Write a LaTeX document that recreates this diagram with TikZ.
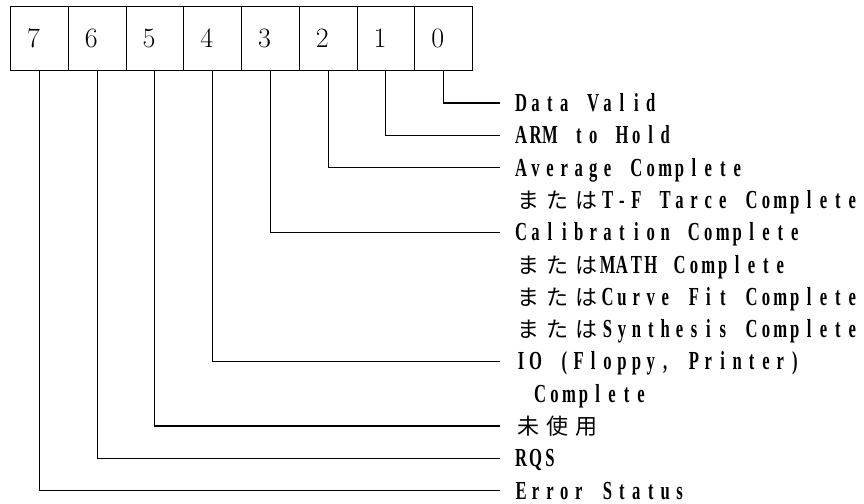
\documentclass[tikz,border=0pt]{standalone}
\usepackage{fontspec}
% condensed serif face for the status texts, set in fixed-pitch cells
\newfontfamily\latf{Liberation Serif}[FakeStretch=0.64]
\newfontfamily\jpf{Noto Sans CJK JP}
\ExplSyntaxOn
\dim_new:N \l_bitlab_pitch_dim
\dim_set:Nn \l_bitlab_pitch_dim {14.4pt}
% one character per cell: half-width cell for Latin, double cell for kana/kanji
\cs_new_protected:Npn \bitlab_cell:n #1
  {
    \int_compare:nNnTF {`#1} > {255}
      { \makebox[2\l_bitlab_pitch_dim]{\jpf\mdseries\fontsize{22pt}{22pt}\selectfont #1} }
      { \makebox[\l_bitlab_pitch_dim]{#1} }
  }
\NewDocumentCommand \mono { m }
  { \str_map_inline:nn {#1} { \bitlab_cell:n {##1} } }
\ExplSyntaxOff
\newcommand\bitdigit[1]{\makebox[46pt]{#1}\hspace*{11.75pt}}
\begin{document}
\begin{tikzpicture}[x=1pt,y=-1pt,
  bitbox/.style={draw,line width=1.1pt,minimum width=57.75pt,minimum height=64pt,
    inner sep=0pt,anchor=north west,font=\fontsize{28pt}{28pt}\selectfont},
  lab/.style={anchor=west,inner sep=0pt,outer xsep=14pt,text height=21pt,text depth=4pt,
    font=\latf\bfseries\fontsize{26pt}{26pt}\selectfont},
  wire/.style={line width=1.1pt}]
\useasboundingbox (0,0) rectangle (864,503);

% status byte, bit 7 on the left
\node[bitbox] (b7) at (10,6) {\bitdigit{7}};
\node[bitbox] (b6) at (67.75,6) {\bitdigit{6}};
\node[bitbox] (b5) at (125.5,6) {\bitdigit{5}};
\node[bitbox] (b4) at (183.25,6) {\bitdigit{4}};
\node[bitbox] (b3) at (241,6) {\bitdigit{3}};
\node[bitbox] (b2) at (298.75,6) {\bitdigit{2}};
\node[bitbox] (b1) at (356.5,6) {\bitdigit{1}};
\node[bitbox] (b0) at (414.25,6) {\bitdigit{0}};

% bit meanings
\node[lab] (l0) at (500,103) {\mono{Data Valid}};
\node[lab] (l1) at (500,135.3) {\mono{ARM to Hold}};
\node[lab] (l2) at (500,167.6) {\mono{Average Complete}};
\node[lab] (c2) at (500,199.9) {\mono{またはT-F Tarce Complete}};
\node[lab] (l3) at (500,232.2) {\mono{Calibration Complete}};
\node[lab] (c3a) at (500,264.5) {\mono{またはMATH Complete}};
\node[lab] (c3b) at (500,296.8) {\mono{またはCurve Fit Complete}};
\node[lab] (c3c) at (500,329.1) {\mono{またはSynthesis Complete}};
\node[lab] (l4) at (500,361.4) {\mono{IO (Floppy, Printer)}};
\node[lab] (c4) at (519,393.7) {\mono{Complete}};
\node[lab] (l5) at (500,426) {\mono{未使用}};
\node[lab] (l6) at (500,458.3) {\mono{RQS}};
\node[lab] (l7) at (500,490.6) {\mono{Error Status}};

% leader lines from each bit to its meaning
\foreach \b in {0,...,7}
  \draw[wire] (b\b.south) |- (l\b.west);
\end{tikzpicture}
\end{document}
